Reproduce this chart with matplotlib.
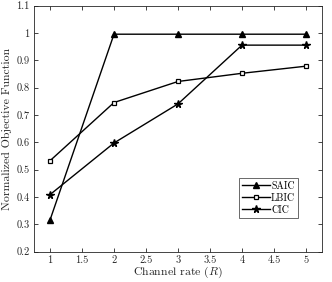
import matplotlib.pyplot as plt

plt.rcParams['font.family'] = ['cmr10', 'DejaVu Serif']
plt.rcParams['mathtext.fontset'] = 'cm'
plt.rcParams['axes.unicode_minus'] = False

rate = [1, 2, 3, 4, 5]
saic = [0.315, 0.995, 0.995, 0.995, 0.995]
lbic = [0.532, 0.745, 0.822, 0.852, 0.878]
cic = [0.408, 0.597, 0.740, 0.955, 0.955]

fig = plt.figure(figsize=(3.32, 2.82), dpi=100)
ax = fig.add_axes([34 / 332, 1 - 251.5 / 282, 288 / 332, 246 / 282])

ax.plot(rate, saic, color='black', lw=1.0, marker='^', ms=4, mfc='black', label='SAIC')
ax.plot(rate, lbic, color='black', lw=1.0, marker='s', ms=3.5, mfc='white', mew=0.9, label='LBIC')
ax.plot(rate, cic, color='black', lw=1.0, marker='*', ms=5.5, mfc='black', label='CIC')

ax.set_xlim(0.75, 5.25)
ax.set_ylim(0.2, 1.1)
ax.set_xticks([1, 1.5, 2, 2.5, 3, 3.5, 4, 4.5, 5])
ax.set_xticklabels(['1', '1.5', '2', '2.5', '3', '3.5', '4', '4.5', '5'])
ax.set_yticks([0.2, 0.3, 0.4, 0.5, 0.6, 0.7, 0.8, 0.9, 1.0, 1.1])
ax.set_yticklabels(['0.2', '0.3', '0.4', '0.5', '0.6', '0.7', '0.8', '0.9', '1', '1.1'])
ax.tick_params(direction='in', top=True, right=True, labelsize=7.5, length=3,
               width=0.6, colors='#262626', labelcolor='#262626', pad=3)
for s in ax.spines.values():
    s.set_linewidth(0.6)
    s.set_color('#262626')

ax.set_xlabel('Channel rate ($R$)', fontsize=8.5, labelpad=0, color='#262626')
ax.set_ylabel('Normalized Objective Function', fontsize=8.5, labelpad=3, color='#262626')

leg = ax.legend(loc='upper left', bbox_to_anchor=(205 / 288, (251.5 - 178) / 246),
                fontsize=7.2, frameon=True, fancybox=False, edgecolor='#262626',
                handlelength=2.8, handletextpad=0.1, borderpad=0.3, labelspacing=0.25,
                borderaxespad=0)
leg.get_frame().set_linewidth(0.6)

fig.savefig('out.png', dpi=100)
